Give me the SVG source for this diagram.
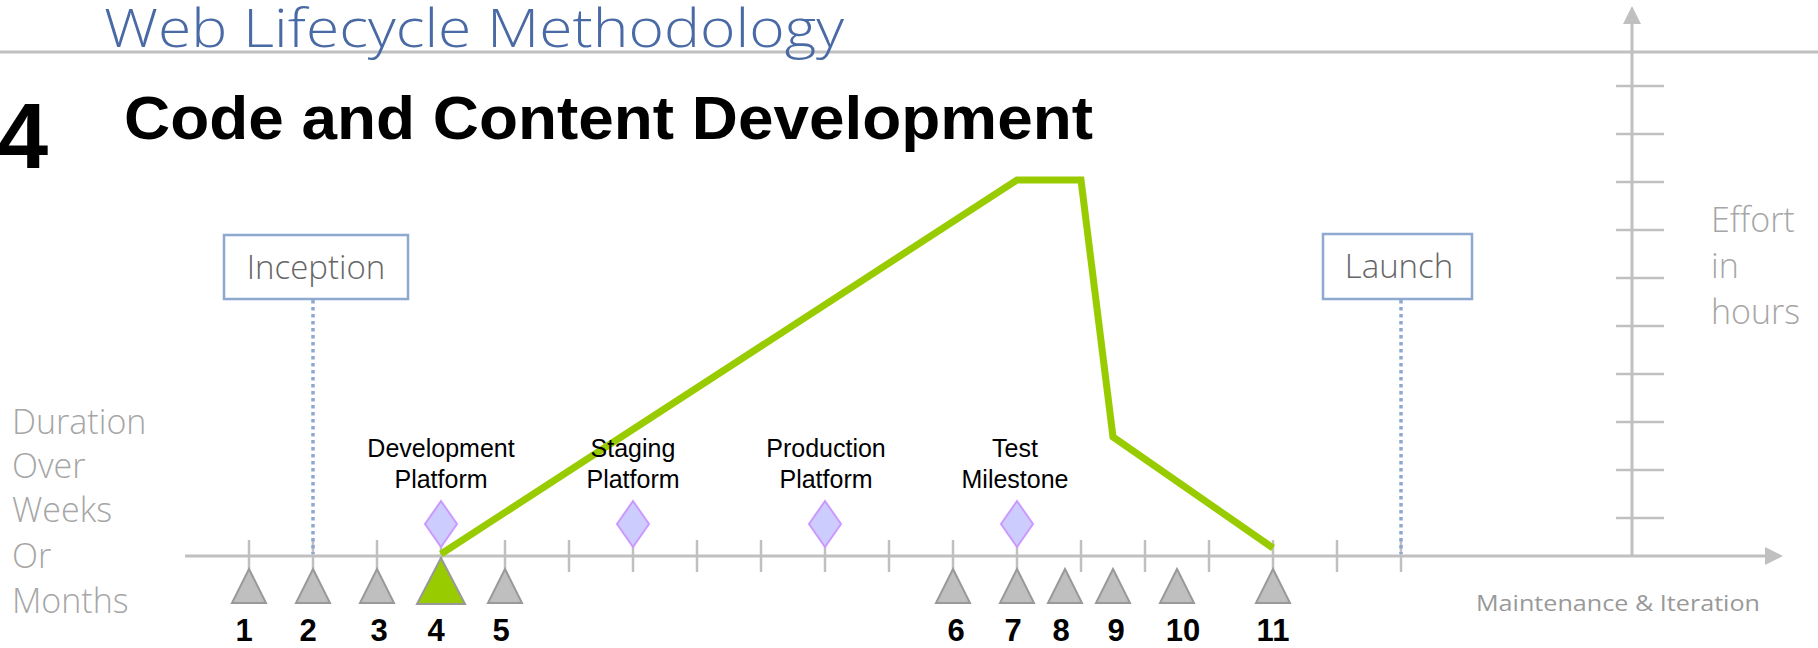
<svg xmlns="http://www.w3.org/2000/svg" width="1818" height="648" viewBox="0 0 1818 648">
<defs>
<style>
.axis{stroke:#c0c0c0;stroke-width:3;fill:none}
.tick{stroke:#c0c0c0;stroke-width:2.5}
.dot{stroke:#8ea9d0;stroke-width:3.5;stroke-dasharray:3.5 3.5;fill:none}
.box{fill:#fff;stroke:#8ea9d0;stroke-width:2.5}
.boxt{font-family:"Open Sans","Liberation Sans",sans-serif;font-weight:300;font-size:33px;fill:#666;text-anchor:middle}
.gl{font-family:"Open Sans","Liberation Sans",sans-serif;font-weight:300;font-size:34px;fill:#a6a6a6}
.tri{fill:#bfbfbf;stroke:#999;stroke-width:2}
.dia{fill:#ccccff;stroke:#cc99ff;stroke-width:2}
.lbl{font-family:"Liberation Sans",Arial,sans-serif;font-size:25px;fill:#000;text-anchor:middle}
.num{font-family:"Liberation Sans",Arial,sans-serif;font-weight:bold;font-size:31px;fill:#000;text-anchor:middle}
</style>
</defs>
<rect width="1818" height="648" fill="#fff"/>
<g id="header">
<line x1="0" y1="52" x2="1818" y2="52" stroke="#c0c0c0" stroke-width="3"/>
<text x="104" y="47" font-family="'Open Sans','Liberation Sans',sans-serif" font-weight="300" font-size="54" fill="#4a6aa5" textLength="740" lengthAdjust="spacingAndGlyphs">Web Lifecycle Methodology</text>
<text x="-3" y="168" font-family="'Liberation Sans',Arial,sans-serif" font-weight="bold" font-size="92" fill="#000">4</text>
<text x="124" y="139" font-family="'Liberation Sans',Arial,sans-serif" font-weight="bold" font-size="62" fill="#000" textLength="969" lengthAdjust="spacingAndGlyphs">Code and Content Development</text>
</g>
<g id="axes">
<line class="axis" x1="185" y1="556" x2="1768" y2="556"/>
<polygon points="1783,556 1765,547 1765,565" fill="#c0c0c0"/>
<line class="axis" x1="1632" y1="556" x2="1632" y2="22"/>
<polygon points="1632,6 1623,24 1641,24" fill="#c0c0c0"/>
<g class="tick">
<line x1="1616" y1="86" x2="1664" y2="86"/><line x1="1616" y1="134" x2="1664" y2="134"/><line x1="1616" y1="182" x2="1664" y2="182"/><line x1="1616" y1="230" x2="1664" y2="230"/><line x1="1616" y1="278" x2="1664" y2="278"/><line x1="1616" y1="326" x2="1664" y2="326"/><line x1="1616" y1="374" x2="1664" y2="374"/><line x1="1616" y1="422" x2="1664" y2="422"/><line x1="1616" y1="470" x2="1664" y2="470"/><line x1="1616" y1="518" x2="1664" y2="518"/>
<line x1="249" y1="540" x2="249" y2="572"/><line x1="313" y1="540" x2="313" y2="572"/><line x1="377" y1="540" x2="377" y2="572"/><line x1="441" y1="540" x2="441" y2="572"/><line x1="505" y1="540" x2="505" y2="572"/><line x1="569" y1="540" x2="569" y2="572"/><line x1="633" y1="540" x2="633" y2="572"/><line x1="697" y1="540" x2="697" y2="572"/><line x1="761" y1="540" x2="761" y2="572"/><line x1="825" y1="540" x2="825" y2="572"/><line x1="889" y1="540" x2="889" y2="572"/><line x1="953" y1="540" x2="953" y2="572"/><line x1="1017" y1="540" x2="1017" y2="572"/><line x1="1081" y1="540" x2="1081" y2="572"/><line x1="1145" y1="540" x2="1145" y2="572"/><line x1="1209" y1="540" x2="1209" y2="572"/><line x1="1273" y1="540" x2="1273" y2="572"/><line x1="1337" y1="540" x2="1337" y2="572"/><line x1="1401" y1="540" x2="1401" y2="572"/>
</g>
</g>
<g id="side-labels">
<text class="gl"><tspan x="12" y="434">Duration</tspan><tspan x="12" y="478">Over</tspan><tspan x="12" y="522">Weeks</tspan><tspan x="12" y="568">Or</tspan><tspan x="12" y="613">Months</tspan></text>
<text class="gl"><tspan x="1711" y="232">Effort</tspan><tspan x="1711" y="278">in</tspan><tspan x="1711" y="324">hours</tspan></text>
<text x="1476" y="611" font-family="'Open Sans','Liberation Sans',sans-serif" font-size="22" fill="#999" textLength="284" lengthAdjust="spacingAndGlyphs">Maintenance &amp; Iteration</text>
</g>
<g id="connectors">
<line class="dot" x1="313" y1="300" x2="313" y2="554"/>
<line class="dot" x1="1401" y1="300" x2="1401" y2="554"/>
<polyline points="441,554 1017,180 1081,180 1113,437 1273,548" fill="none" stroke="#99cc00" stroke-width="7"/>
</g>
<g id="inception">
<rect class="box" x="224" y="235" width="184" height="64"/>
<text class="boxt" x="316" y="279">Inception</text>
</g>
<g id="launch">
<rect class="box" x="1323" y="234" width="149" height="65"/>
<text class="boxt" x="1399" y="278">Launch</text>
</g>
<g id="milestones">
<g id="dev-platform"><polygon class="dia" points="441,501 457,524 441,547 425,524"/><text class="lbl"><tspan x="441" y="457">Development</tspan><tspan x="441" y="488">Platform</tspan></text></g>
<g id="staging-platform"><polygon class="dia" points="633,501 649,524 633,547 617,524"/><text class="lbl"><tspan x="633" y="457">Staging</tspan><tspan x="633" y="488">Platform</tspan></text></g>
<g id="production-platform"><polygon class="dia" points="825,501 841,524 825,547 809,524"/><text class="lbl"><tspan x="826" y="457">Production</tspan><tspan x="826" y="488">Platform</tspan></text></g>
<g id="test-milestone"><polygon class="dia" points="1017,501 1033,524 1017,547 1001,524"/><text class="lbl"><tspan x="1015" y="457">Test</tspan><tspan x="1015" y="488">Milestone</tspan></text></g>
</g>
<g id="steps">
<g id="s1"><polygon class="tri" points="249,569 266,603 232,603"/><text class="num" x="244" y="641">1</text></g>
<g id="s2"><polygon class="tri" points="313,569 330,603 296,603"/><text class="num" x="308" y="641">2</text></g>
<g id="s3"><polygon class="tri" points="377,569 394,603 360,603"/><text class="num" x="379" y="641">3</text></g>
<g id="s4"><polygon points="441,558 465,604 417,604" fill="#99cc00" stroke="#999" stroke-width="2"/><text class="num" x="436" y="641">4</text></g>
<g id="s5"><polygon class="tri" points="505,569 522,603 488,603"/><text class="num" x="501" y="641">5</text></g>
<g id="s6"><polygon class="tri" points="953,569 970,603 936,603"/><text class="num" x="956" y="641">6</text></g>
<g id="s7"><polygon class="tri" points="1017,569 1034,603 1000,603"/><text class="num" x="1013" y="641">7</text></g>
<g id="s8"><polygon class="tri" points="1065,569 1082,603 1048,603"/><text class="num" x="1061" y="641">8</text></g>
<g id="s9"><polygon class="tri" points="1113,569 1130,603 1096,603"/><text class="num" x="1116" y="641">9</text></g>
<g id="s10"><polygon class="tri" points="1177,569 1194,603 1160,603"/><text class="num" x="1183" y="641">10</text></g>
<g id="s11"><polygon class="tri" points="1273,569 1290,603 1256,603"/><text class="num" x="1273" y="641">11</text></g>
</g>
</svg>
